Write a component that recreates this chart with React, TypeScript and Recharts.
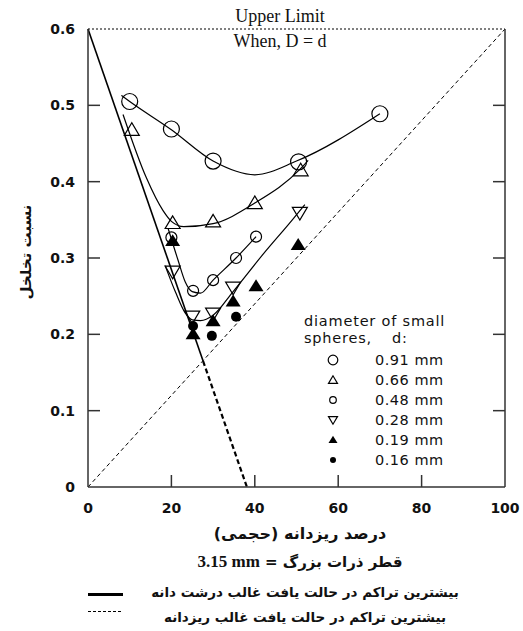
import React from 'react';
import { ComposedChart, Line, Scatter, XAxis, YAxis, ReferenceLine } from 'recharts';

// measured points
const circlesLg = [
  { x: 10, y: 0.505 }, { x: 20, y: 0.469 }, { x: 30, y: 0.427 }, { x: 50.5, y: 0.426 }, { x: 70, y: 0.489 },
];
const trianglesUp = [
  { x: 10.5, y: 0.468 }, { x: 20.3, y: 0.346 }, { x: 30, y: 0.348 }, { x: 40, y: 0.372 }, { x: 51, y: 0.415 },
];
const circlesSm = [
  { x: 20, y: 0.327 }, { x: 25.2, y: 0.257 }, { x: 30, y: 0.271 }, { x: 35.5, y: 0.3 }, { x: 40.3, y: 0.328 },
];
const trianglesDown = [
  { x: 20.3, y: 0.282 }, { x: 25, y: 0.223 }, { x: 30, y: 0.227 }, { x: 34.8, y: 0.261 }, { x: 50.8, y: 0.359 },
];
const trianglesFilled = [
  { x: 20.3, y: 0.322 }, { x: 25.2, y: 0.2 }, { x: 30, y: 0.217 }, { x: 34.8, y: 0.243 }, { x: 40.3, y: 0.263 }, { x: 50.4, y: 0.317 },
];
const dotsFilled = [
  { x: 25.2, y: 0.211 }, { x: 29.7, y: 0.198 }, { x: 35.5, y: 0.223 },
];

// fitted curves
const curveA = [
  { x: 8, y: 0.513 }, { x: 10, y: 0.505 }, { x: 20, y: 0.468 }, { x: 30, y: 0.427 }, { x: 40, y: 0.409 }, { x: 50, y: 0.427 }, { x: 70, y: 0.489 },
];
const curveB = [
  { x: 8.4, y: 0.488 }, { x: 14, y: 0.405 }, { x: 18, y: 0.362 }, { x: 20, y: 0.348 }, { x: 23, y: 0.341 }, { x: 30, y: 0.345 },
  { x: 40, y: 0.372 }, { x: 50.8, y: 0.416 }, { x: 52.8, y: 0.428 },
];
const curveC = [
  { x: 19.2, y: 0.339 }, { x: 21.6, y: 0.297 }, { x: 23.3, y: 0.269 }, { x: 25, y: 0.256 }, { x: 27, y: 0.254 },
  { x: 30, y: 0.271 }, { x: 35.5, y: 0.3 }, { x: 40.3, y: 0.328 },
];
const curveD = [
  { x: 18.5, y: 0.29 }, { x: 21, y: 0.255 }, { x: 23.3, y: 0.228 }, { x: 25, y: 0.219 }, { x: 27, y: 0.218 }, { x: 30, y: 0.225 },
  { x: 34.8, y: 0.256 }, { x: 42, y: 0.305 }, { x: 49, y: 0.35 }, { x: 52, y: 0.37 },
];

// limit lines
const coarseLimit = [{ x: 0, y: 0.6 }, { x: 27.6, y: 0.165 }];
const coarseLimitExt = [{ x: 27.6, y: 0.165 }, { x: 38.1, y: 0 }];
const fineLimit = [{ x: 0, y: 0 }, { x: 100, y: 0.6 }];

const xTicks = [0, 20, 40, 60, 80, 100];
const yTicks = [0, 0.1, 0.2, 0.3, 0.4, 0.5, 0.6];
const yTickLabels = ['0', '0.1', '0.2', '0.3', '0.4', '0.5', '0.6'];
const legendLabels = ['0.91 mm', '0.66 mm', '0.48 mm', '0.28 mm', '0.19 mm', '0.16 mm'];

const tickFont = { fontFamily: 'DejaVu Sans', fontWeight: 'bold' as const, fontSize: 14, fill: '#111' };

type Kind = 'circleLg' | 'triUp' | 'circleSm' | 'triDown' | 'triFilled' | 'dotFilled';

const Marker = ({ kind, cx, cy, s = 1 }: { kind: Kind; cx: number; cy: number; s?: number }) => {
  const sw = 1.2;
  if (kind === 'circleLg') return <circle cx={cx} cy={cy} r={8 * s} fill="none" stroke="#000" strokeWidth={sw} />;
  if (kind === 'circleSm') return <circle cx={cx} cy={cy} r={5.5 * s} fill="none" stroke="#000" strokeWidth={sw} />;
  if (kind === 'dotFilled') return <circle cx={cx} cy={cy} r={5 * s} fill="#000" />;
  const h = 7 * s;
  const w = 7.5 * s;
  if (kind === 'triUp')
    return <polygon points={`${cx},${cy - h} ${cx - w},${cy + h * 0.8} ${cx + w},${cy + h * 0.8}`} fill="none" stroke="#000" strokeWidth={sw} />;
  if (kind === 'triDown')
    return <polygon points={`${cx},${cy + h} ${cx - w},${cy - h * 0.8} ${cx + w},${cy - h * 0.8}`} fill="none" stroke="#000" strokeWidth={sw} />;
  return <polygon points={`${cx},${cy - h} ${cx - w},${cy + h * 0.7} ${cx + w},${cy + h * 0.7}`} fill="#000" />;
};

const shapeOf = (kind: Kind) => (p: any) => <Marker kind={kind} cx={p.cx} cy={p.cy} />;

const LeftTick = (p: any) => {
  const v = p.payload.value;
  const i = yTicks.indexOf(v);
  return (
    <g>
      {v > 0 && v < 0.6 && <line x1={p.x} x2={p.x + 12} y1={p.y} y2={p.y} stroke="#333" strokeWidth={1.5} />}
      <text x={p.x - 13} y={p.y} dy={5} textAnchor="end" {...tickFont}>{yTickLabels[i]}</text>
    </g>
  );
};

const RightTick = (p: any) => {
  const v = p.payload.value;
  return v > 0 && v < 0.6 ? <line x1={p.x} x2={p.x - 12} y1={p.y} y2={p.y} stroke="#333" strokeWidth={1.5} /> : <g />;
};

const BottomTick = (p: any) => {
  const v = p.payload.value;
  return (
    <g>
      {v > 0 && v < 100 && <line x1={p.x} x2={p.x} y1={p.y} y2={p.y - 12} stroke="#333" strokeWidth={1.5} />}
      <text x={p.x} y={p.y + 26} textAnchor="middle" {...tickFont}>{v}</text>
    </g>
  );
};

const legendKinds: Kind[] = ['circleLg', 'triUp', 'circleSm', 'triDown', 'triFilled', 'dotFilled'];

export default function App() {
  const faText = { fontFamily: 'DejaVu Sans', fontWeight: 'bold' as const, color: '#111', direction: 'rtl' as const };
  const legendFont = { fontFamily: 'DejaVu Sans', fontSize: 14.5, letterSpacing: 0.5, color: '#111' };
  return (
    <div style={{ position: 'absolute', left: 0, top: 0, width: 523, height: 631, background: '#fff' }}>
      <ComposedChart width={523} height={631} margin={{ top: 29, right: 17, bottom: 143, left: 87 }}>
        <XAxis type="number" dataKey="x" domain={[0, 100]} ticks={xTicks} height={1} tickSize={0} tickMargin={0}
          axisLine={{ stroke: '#333', strokeWidth: 1.5 }} tickLine={false} tick={BottomTick} interval={0} />
        <YAxis type="number" dataKey="y" domain={[0, 0.6]} ticks={yTicks} width={1} tickSize={0} tickMargin={0}
          axisLine={{ stroke: '#333', strokeWidth: 1.5 }} tickLine={false} tick={LeftTick} interval={0} />
        <YAxis yAxisId="r" orientation="right" type="number" domain={[0, 0.6]} ticks={yTicks} width={1} tickSize={0} tickMargin={0}
          axisLine={{ stroke: '#333', strokeWidth: 1.5 }} tickLine={false} tick={RightTick} interval={0} />
        <ReferenceLine y={0.6} stroke="#000" strokeDasharray="2 2" strokeWidth={1} />
        <Line yAxisId="r" data={fineLimit} dataKey="y" stroke="#000" strokeWidth={1} strokeDasharray="4 3" dot={false} isAnimationActive={false} />
        <Line data={coarseLimit} dataKey="y" stroke="#000" strokeWidth={1.6} dot={false} isAnimationActive={false} />
        <Line data={coarseLimitExt} dataKey="y" stroke="#000" strokeWidth={2.2} strokeDasharray="5 3" dot={false} isAnimationActive={false} />
        <Line data={curveA} dataKey="y" type="monotone" stroke="#000" strokeWidth={1.2} dot={false} isAnimationActive={false} />
        <Line data={curveB} dataKey="y" type="monotone" stroke="#000" strokeWidth={1.2} dot={false} isAnimationActive={false} />
        <Line data={curveC} dataKey="y" type="monotone" stroke="#000" strokeWidth={1.2} dot={false} isAnimationActive={false} />
        <Line data={curveD} dataKey="y" type="monotone" stroke="#000" strokeWidth={1.2} dot={false} isAnimationActive={false} />
        <Scatter data={circlesLg} dataKey="y" shape={shapeOf('circleLg')} isAnimationActive={false} />
        <Scatter data={trianglesUp} dataKey="y" shape={shapeOf('triUp')} isAnimationActive={false} />
        <Scatter data={circlesSm} dataKey="y" shape={shapeOf('circleSm')} isAnimationActive={false} />
        <Scatter data={trianglesDown} dataKey="y" shape={shapeOf('triDown')} isAnimationActive={false} />
        <Scatter data={trianglesFilled} dataKey="y" shape={shapeOf('triFilled')} isAnimationActive={false} />
        <Scatter data={dotsFilled} dataKey="y" shape={shapeOf('dotFilled')} isAnimationActive={false} />
      </ComposedChart>

      <div style={{ position: 'absolute', left: 180, top: 4, width: 200, textAlign: 'center', fontFamily: 'Liberation Serif', fontSize: 18, lineHeight: '25px', color: '#111' }}>
        <div>Upper Limit</div>
        <div>When, D = d</div>
      </div>

      <div style={{ position: 'absolute', left: 26, top: 252, transform: 'translate(-50%, -50%) rotate(-90deg)', whiteSpace: 'nowrap', fontSize: 15, ...faText }}>
        نسبت تخلخل
      </div>

      <div style={{ position: 'absolute', left: 304, top: 313, lineHeight: '17px', ...legendFont, letterSpacing: 0.8 }}>
        <div>diameter of small</div>
        <div>spheres,<span style={{ marginLeft: 20 }}>d:</span></div>
      </div>
      {legendLabels.map((lab, i) => (
        <div key={lab} style={{ position: 'absolute', left: 322, top: 351 + i * 20, height: 18, display: 'flex', alignItems: 'center' }}>
          <svg width={22} height={18}><Marker kind={legendKinds[i]} cx={11} cy={9} s={0.6} /></svg>
          <span style={{ marginLeft: 31, ...legendFont }}>{lab}</span>
        </div>
      ))}

      <div style={{ position: 'absolute', left: 100, top: 524, width: 400, textAlign: 'center', fontSize: 16, ...faText }}>
        درصد ریزدانه (حجمی)
      </div>
      <div style={{ position: 'absolute', left: 100, top: 552, width: 400, textAlign: 'center', fontSize: 15, ...faText }}>
        قطر ذرات بزرگ = <span style={{ fontFamily: 'Liberation Serif', fontSize: 17, direction: 'ltr', unicodeBidi: 'isolate' }}>3.15 mm</span>
      </div>
      <div style={{ position: 'absolute', left: 88, top: 593, width: 35, height: 3, background: '#000' }} />
      <div style={{ position: 'absolute', left: 88, top: 611, width: 33, borderTop: '1px dashed #000' }} />
      <div style={{ position: 'absolute', left: 140, top: 584, width: 330, textAlign: 'center', fontSize: 13.5, ...faText }}>
        بیشترین تراکم در حالت یافت غالب درشت دانه
      </div>
      <div style={{ position: 'absolute', left: 140, top: 609, width: 330, textAlign: 'center', fontSize: 13.5, ...faText }}>
        بیشترین تراکم در حالت یافت غالب ریزدانه
      </div>
    </div>
  );
}
